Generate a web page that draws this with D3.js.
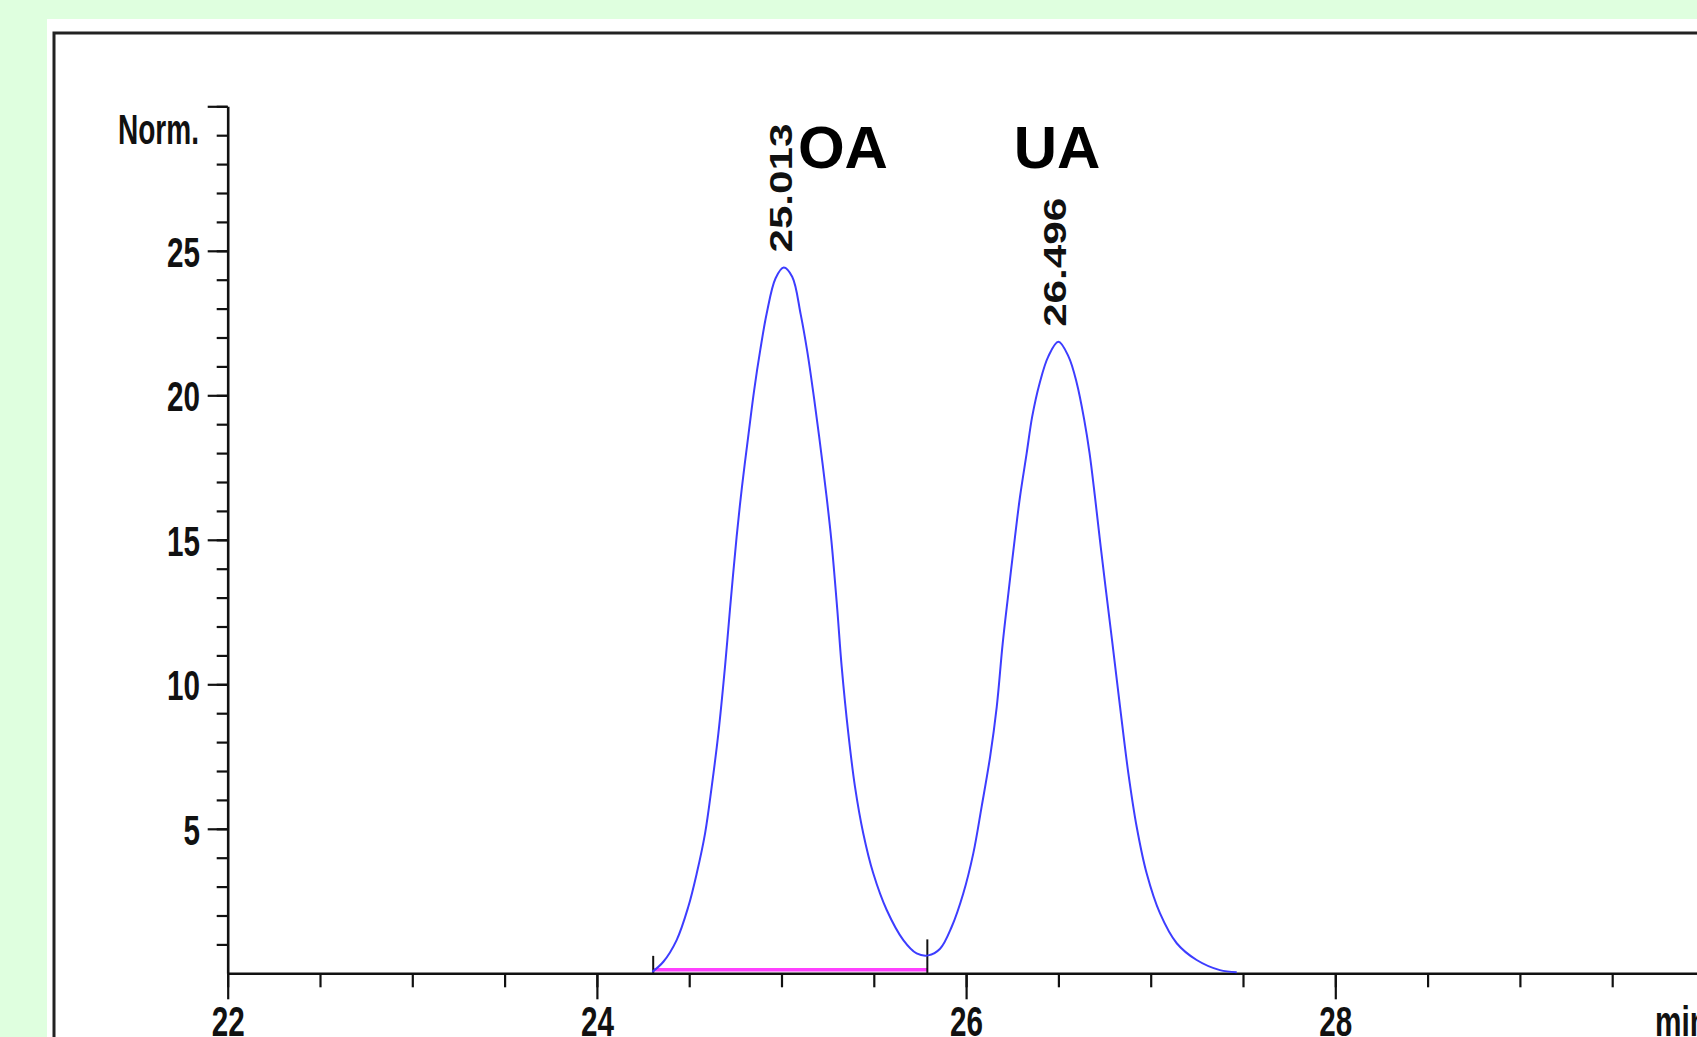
<!DOCTYPE html>
<html>
<head>
<meta charset="utf-8">
<script src="https://cdn.jsdelivr.net/npm/d3@7"></script>
<style>
  body { margin: 0; background: #dfffdf; overflow: hidden; }
  svg { display: block; }
</style>
</head>
<body>
<div class="chromatogram"></div>
<script>
// retention time (min) and normalised detector signal
const times = [
  24.300, 24.360, 24.432, 24.495, 24.541, 24.586, 24.622, 24.658, 24.694, 24.721,
  24.757, 24.786, 24.822, 24.852, 24.885, 24.920, 24.968, 25.012, 25.058, 25.104,
  25.140, 25.172, 25.204, 25.242, 25.270, 25.302, 25.326, 25.362, 25.398, 25.443,
  25.497, 25.570, 25.660, 25.732, 25.795, 25.859, 25.922, 25.985, 26.039, 26.084,
  26.130, 26.166, 26.198, 26.229, 26.265, 26.292, 26.328, 26.358, 26.398, 26.445,
  26.500, 26.555, 26.600, 26.640, 26.669, 26.698, 26.725, 26.755, 26.793, 26.834,
  26.879, 26.924, 26.978, 27.050, 27.141, 27.249, 27.375, 27.466
];
const signal = [
  0.05, 0.40, 1.15, 2.30, 3.46, 4.84, 6.46, 8.30, 10.61, 12.60,
  15.11, 16.84, 18.69, 20.18, 21.57, 22.84, 24.05, 24.42, 24.10, 22.80,
  21.50, 20.10, 18.57, 16.61, 14.99, 12.60, 10.61, 8.30, 6.46, 4.84,
  3.46, 2.19, 1.15, 0.69, 0.62, 0.85, 1.61, 2.77, 4.15, 5.76,
  7.49, 9.22, 11.40, 13.15, 15.11, 16.49, 17.99, 19.26, 20.41, 21.34,
  21.85, 21.34, 20.41, 19.15, 17.99, 16.49, 14.99, 13.38, 11.40, 9.22,
  6.92, 5.07, 3.46, 2.08, 1.04, 0.46, 0.11, 0.04
];

// peak table
const peakTimes = [25.013, 26.496];
const peakHeights = [24.42, 21.85];
const peakNames = ["OA", "UA"];

// integration baseline of the first peak
const integStart = 24.305;
const integEnd = 25.79;
const integLevel = 0.12;

// axis ticks
const yMajorTicks = [5, 10, 15, 20, 25, 30];
const yMinorTicks = d3.range(1, 31);
const xMajorTicks = [22, 24, 26, 28, 30];
const xMinorTicks = d3.range(22, 30.01, 0.5);

const width = 1697, height = 1037;
const data = times.map((t, i) => ({ t: t, v: signal[i] }));

const svg = d3.select(".chromatogram")
  .append("svg")
  .attr("width", width)
  .attr("height", height);

// white sheet + frame
svg.append("rect")
  .attr("x", 47).attr("y", 19)
  .attr("width", width).attr("height", height)
  .attr("fill", "#ffffff");
svg.append("rect")
  .attr("x", 54).attr("y", 33)
  .attr("width", width).attr("height", height)
  .attr("fill", "none")
  .attr("stroke", "#222")
  .attr("stroke-width", 3);

const x = d3.scaleLinear().domain([22, 30]).range([227.7, 1704.5]);
const y = d3.scaleLinear().domain([0, 30]).range([973.3, 106.3]);

const labelFont = "'Liberation Sans', Arial, Helvetica, sans-serif";

// y axis: minor then major ticks
const yMinor = svg.append("g")
  .attr("transform", `translate(${x(22)},0)`)
  .call(d3.axisLeft(y).tickValues(yMinorTicks).tickSize(11).tickSizeOuter(0).tickFormat(""));
const yMajor = svg.append("g")
  .attr("transform", `translate(${x(22)},0)`)
  .call(d3.axisLeft(y).tickValues(yMajorTicks).tickSize(20).tickSizeOuter(0)
    .tickFormat(d => d === 30 ? "" : d));
yMajor.select(".domain").remove();

// x axis
const xMinor = svg.append("g")
  .attr("transform", `translate(0,${y(0)})`)
  .call(d3.axisBottom(x).tickValues(xMinorTicks).tickSize(14).tickSizeOuter(0).tickFormat(""));
const xMajor = svg.append("g")
  .attr("transform", `translate(0,${y(0)})`)
  .call(d3.axisBottom(x).tickValues(xMajorTicks).tickSize(26).tickSizeOuter(0)
    .tickFormat(d => d === 30 ? "" : d));
xMajor.select(".domain").remove();

svg.selectAll(".domain").attr("stroke", "#111").attr("stroke-width", 2.6);
svg.selectAll(".tick line").attr("stroke", "#111").attr("stroke-width", 2.2);

// condensed, tall tick labels like the instrument printout
yMajor.selectAll(".tick text")
  .attr("x", -27.7)
  .attr("dy", "0.36em")
  .attr("font-family", labelFont)
  .attr("font-weight", "bold")
  .attr("font-size", 43)
  .attr("fill", "#111")
  .attr("lengthAdjust", "spacingAndGlyphs")
  .attr("textLength", function () { return this.textContent.length * 16.5; });

xMajor.selectAll(".tick text")
  .attr("y", 62.7)
  .attr("dy", 0)
  .attr("font-family", labelFont)
  .attr("font-weight", "bold")
  .attr("font-size", 43)
  .attr("fill", "#111")
  .attr("lengthAdjust", "spacingAndGlyphs")
  .attr("textLength", function () { return this.textContent.length * 16.5; });

svg.append("text")
  .attr("x", 199).attr("y", 144)
  .attr("text-anchor", "end")
  .attr("font-family", labelFont)
  .attr("font-weight", "bold")
  .attr("font-size", 43)
  .attr("fill", "#111")
  .attr("lengthAdjust", "spacingAndGlyphs")
  .attr("textLength", 81)
  .text("Norm.");

svg.append("text")
  .attr("x", 1655).attr("y", y(0) + 62.7)
  .attr("font-family", labelFont)
  .attr("font-weight", "bold")
  .attr("font-size", 43)
  .attr("fill", "#111")
  .attr("lengthAdjust", "spacingAndGlyphs")
  .attr("textLength", 53)
  .text("min");

// integration baseline (magenta) and event marks
svg.append("line")
  .attr("x1", x(integStart)).attr("x2", x(integEnd))
  .attr("y1", y(integLevel)).attr("y2", y(integLevel))
  .attr("stroke", "#ff40ff")
  .attr("stroke-width", 3.5);

function signalAt(t) {
  const i = d3.leastIndex(data, d => Math.abs(d.t - t));
  return data[i].v;
}
svg.selectAll(".event")
  .data([integStart, integEnd])
  .enter()
  .append("line")
  .attr("class", "event")
  .attr("x1", d => x(d)).attr("x2", d => x(d))
  .attr("y1", y(0))
  .attr("y2", d => y(signalAt(d)) - 16)
  .attr("stroke", "#111")
  .attr("stroke-width", 2);

// the trace
const line = d3.line()
  .x(d => x(d.t))
  .y(d => y(d.v))
  .curve(d3.curveCatmullRom.alpha(0.5));

svg.append("path")
  .datum(data)
  .attr("fill", "none")
  .attr("stroke", "#3d3dff")
  .attr("stroke-width", 2)
  .attr("d", line);

// retention time labels, rotated
svg.selectAll(".rt")
  .data(peakTimes)
  .enter()
  .append("text")
  .attr("class", "rt")
  .attr("transform", (d, i) => `translate(${x(d) + 8.5},${y(peakHeights[i]) - 15}) rotate(-90)`)
  .attr("font-family", labelFont)
  .attr("font-weight", "bold")
  .attr("font-size", 31)
  .attr("fill", "#111")
  .attr("lengthAdjust", "spacingAndGlyphs")
  .attr("textLength", 129)
  .text(d => d.toFixed(3));

// compound names
const nameOffsets = [14, -44];
svg.selectAll(".name")
  .data(peakNames)
  .enter()
  .append("text")
  .attr("class", "name")
  .attr("x", (d, i) => x(peakTimes[i]) + nameOffsets[i])
  .attr("y", 168)
  .attr("font-family", labelFont)
  .attr("font-weight", "bold")
  .attr("font-size", 60)
  .attr("fill", "#000")
  .text(d => d);
</script>
</body>
</html>
